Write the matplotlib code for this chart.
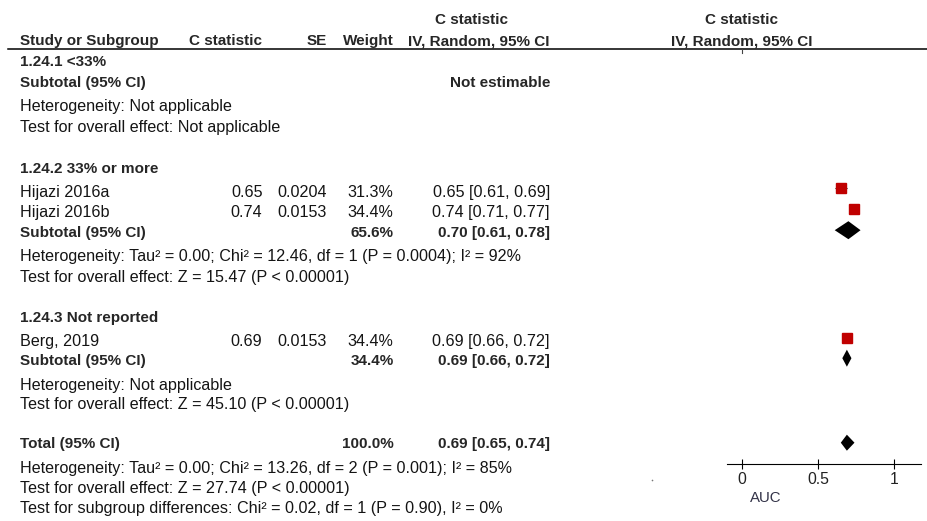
import matplotlib.pyplot as plt

plt.rcParams['font.family'] = ['Liberation Sans', 'DejaVu Sans']

# individual studies
studies = ['Hijazi 2016a', 'Hijazi 2016b', 'Berg, 2019']
c_stat = [0.65, 0.74, 0.69]
se = [0.0204, 0.0153, 0.0153]
weight = [31.3, 34.4, 34.4]
ci_low = [0.61, 0.71, 0.66]
ci_high = [0.69, 0.77, 0.72]

# subgroups (first one has no studies)
sub_names = ['1.24.1 <33%', '1.24.2 33% or more', '1.24.3 Not reported']
sub_weight = [None, 65.6, 34.4]
sub_est = [None, 0.70, 0.69]
sub_low = [None, 0.61, 0.66]
sub_high = [None, 0.78, 0.72]
sub_het = ['Heterogeneity: Not applicable',
           'Heterogeneity: Tau² = 0.00; Chi² = 12.46, df = 1 (P = 0.0004); I² = 92%',
           'Heterogeneity: Not applicable']
sub_effect = ['Test for overall effect: Not applicable',
              'Test for overall effect: Z = 15.47 (P < 0.00001)',
              'Test for overall effect: Z = 45.10 (P < 0.00001)']

# overall pooled result
total_weight = 100.0
total_est = 0.69
total_low = 0.65
total_high = 0.74
total_notes = ['Heterogeneity: Tau² = 0.00; Chi² = 13.26, df = 2 (P = 0.001); I² = 85%',
               'Test for overall effect: Z = 27.74 (P < 0.00001)',
               'Test for subgroup differences: Chi² = 0.02, df = 1 (P = 0.90), I² = 0%']

FS = 11.6
FS_BOLD = 11.0
REG = '#141414'
BOLD = '#262626'
RED = '#C00000'

fig = plt.figure(figsize=(9.28, 5.21), dpi=100)

# text layer in pixel coordinates
ax = fig.add_axes([0, 0, 1, 1])
ax.set_xlim(0, 928)
ax.set_ylim(521, 0)
ax.axis('off')

# forest panel, x in AUC units, y in pixels
fa = fig.add_axes([727 / 928, 0, (921 - 727) / 928, 1])
fa.set_xlim((727 - 742) / 152, (921 - 742) / 152)
fa.set_ylim(521, 0)
fa.patch.set_visible(False)
for s in ['left', 'right', 'top']:
    fa.spines[s].set_visible(False)
fa.spines['bottom'].set_position(('data', 464))
fa.spines['bottom'].set_linewidth(0.8)
fa.set_yticks([])
fa.set_xticks([0, 0.5, 1])
fa.set_xticklabels(['0', '0.5', '1'])
fa.tick_params(axis='x', direction='inout', length=7.2, width=0.8,
               pad=2.5, labelsize=11.3, labelcolor='#222222')
fa.text(0.155, 498, 'AUC', ha='center', va='center', fontsize=10.8,
        color='#333348')

X_NAME, X_C, X_SE, X_W, X_CI = 20.5, 262.5, 327, 393.5, 550


def txt(x, y, s, bold=False, ha='left'):
    ax.text(x, y, s, ha=ha, va='baseline',
            fontsize=FS_BOLD if bold else FS,
            fontweight='bold' if bold else 'normal',
            color=BOLD if bold else REG)


def diamond(est, lo, hi, y, h):
    fa.fill([lo, est, hi, est], [y, y - h, y, y + h], color='black', lw=0)


# headers
txt(472, 24, 'C statistic', bold=True, ha='center')
txt(742, 24, 'C statistic', bold=True, ha='center')
txt(X_NAME, 45, 'Study or Subgroup', bold=True)
txt(X_C, 45, 'C statistic', bold=True, ha='right')
txt(X_SE, 45, 'SE', bold=True, ha='right')
txt(X_W, 45, 'Weight', bold=True, ha='right')
txt(X_CI, 45, 'IV, Random, 95% CI', bold=True, ha='right')
txt(742, 45, 'IV, Random, 95% CI', bold=True, ha='center')
ax.plot([8, 928], [49.3, 49.3], color='black', lw=1.1)
fa.plot([0, 0], [49.3, 52.5], color='#444444', lw=0.8)

# row baselines for each subgroup block: title, studies, subtotal, het, effect
blocks = [
    dict(title=66, rows=[], study_idx=[], sub=87, het=111, eff=132),
    dict(title=172.7, rows=[196.7, 217.3], study_idx=[0, 1], sub=237, het=261, eff=281.7),
    dict(title=321.7, rows=[346], study_idx=[2], sub=365, het=390, eff=409.3),
]
diamond_h = [9, 9, 8.5]

for g, b in enumerate(blocks):
    txt(X_NAME, b['title'], sub_names[g], bold=True)
    for i, y in zip(b['study_idx'], b['rows']):
        txt(X_NAME, y, studies[i])
        txt(X_C, y, f'{c_stat[i]:.2f}', ha='right')
        txt(X_SE, y, f'{se[i]:.4f}', ha='right')
        txt(X_W, y, f'{weight[i]:.1f}%', ha='right')
        txt(X_CI, y, f'{c_stat[i]:.2f} [{ci_low[i]:.2f}, {ci_high[i]:.2f}]', ha='right')
        ym = y - 8.5
        fa.hlines(ym, ci_low[i], ci_high[i], color='black', lw=0.8)
        fa.plot(c_stat[i], ym, 's', ms=7.3, color=RED, mec=RED)
    txt(X_NAME, b['sub'], 'Subtotal (95% CI)', bold=True)
    if sub_est[g] is None:
        txt(X_CI, b['sub'], 'Not estimable', bold=True, ha='right')
    else:
        txt(X_W, b['sub'], f'{sub_weight[g]:.1f}%', bold=True, ha='right')
        txt(X_CI, b['sub'],
            f'{sub_est[g]:.2f} [{sub_low[g]:.2f}, {sub_high[g]:.2f}]',
            bold=True, ha='right')
        diamond(sub_est[g], sub_low[g], sub_high[g], b['sub'] - 6.8, diamond_h[g])
    txt(X_NAME, b['het'], sub_het[g])
    txt(X_NAME, b['eff'], sub_effect[g])

# overall
txt(X_NAME, 448.3, 'Total (95% CI)', bold=True)
txt(X_W, 448.3, f'{total_weight:.1f}%', bold=True, ha='right')
txt(X_CI, 448.3, f'{total_est:.2f} [{total_low:.2f}, {total_high:.2f}]',
    bold=True, ha='right')
diamond(total_est, total_low, total_high, 442.7, 8)
for y, s in zip([473.3, 493.3, 513.3], total_notes):
    txt(X_NAME, y, s)

ax.plot(652, 480, 'o', ms=1.2, color='#777777', mec='none')

fig.savefig('out.png', dpi=100)
